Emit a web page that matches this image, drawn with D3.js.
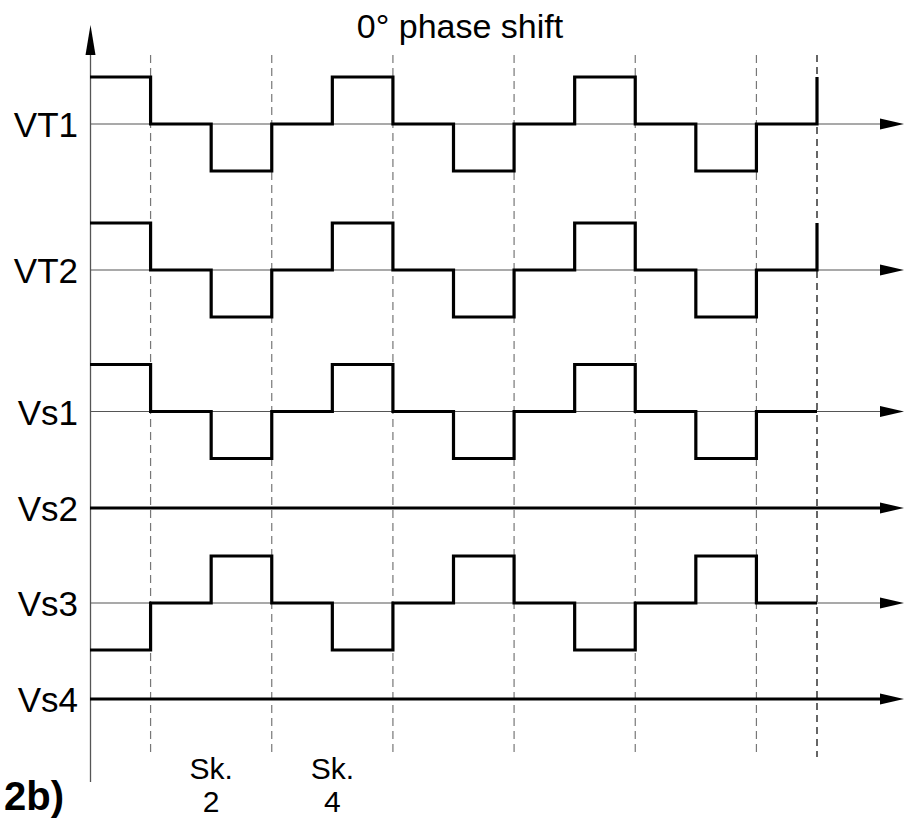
<!DOCTYPE html>
<html><head><meta charset="utf-8">
<script src="https://cdn.jsdelivr.net/npm/d3@7"></script>
<style>body{margin:0;background:#fff}svg{display:block}text{font-family:"Liberation Sans",Arial,sans-serif}</style>
</head><body>
<svg id="c" width="904" height="819"></svg>
<script>
// --- data ---
const rowLabels = ["VT1","VT2","Vs1","Vs2","Vs3","Vs4"];
const VT1 = [1,0,-1,0,1,0,-1,0,1,0,-1,0,1];
const VT2 = [1,0,-1,0,1,0,-1,0,1,0,-1,0,1];
const Vs1 = [1,0,-1,0,1,0,-1,0,1,0,-1,0,0];
const Vs2 = [0,0,0,0,0,0,0,0,0,0,0,0,0,0];
const Vs3 = [-1,0,1,0,-1,0,1,0,-1,0,1,0,0];
const Vs4 = [0,0,0,0,0,0,0,0,0,0,0,0,0,0];
const series = [VT1,VT2,Vs1,Vs2,Vs3,Vs4];
const gridTimes = [1,3,5,7,9,11,12];
const skLabels = [{t:2,a:"Sk.",b:"2"},{t:4,a:"Sk.",b:"4"}];
const title = "0° phase shift";
const figLabel = "2b)";

// --- layout ---
const svg = d3.select("#c");
const x = d3.scaleLinear().domain([0,12]).range([90,817]);
const rowBase = {VT1:124,VT2:270,Vs1:411.5,Vs2:508,Vs3:603,Vs4:699};
const amp = d3.scaleLinear().domain([-1,1]).range([47,-47]);

// dashed grid lines
gridTimes.forEach((t,i)=>{
  const last = i===gridTimes.length-1;
  svg.append("line").attr("x1",x(t)).attr("x2",x(t)).attr("y1",55).attr("y2",757)
    .attr("stroke",last?"#000":"#777").attr("stroke-width",1.2)
    .attr("stroke-dasharray",last?"7,5":"8,5");
});

// y axis with arrow
svg.append("line").attr("x1",90.5).attr("x2",90.5).attr("y1",50).attr("y2",782)
  .attr("stroke","#555").attr("stroke-width",1.3);
svg.append("path").attr("d",`M90.5,25 L85.5,55 L95.5,55 Z`).attr("fill","#000");

// rows
rowLabels.forEach((lab,i)=>{
  const by = rowBase[lab];
  const vals = series[i];
  const flat = vals.every(v=>v===0) && vals.length>13;
  svg.append("line").attr("x1",90).attr("x2",884).attr("y1",by).attr("y2",by)
    .attr("stroke", flat?"#000":"#555").attr("stroke-width", flat?3.2:1.2);
  svg.append("path").attr("d",`M904,${by} L880,${by-5.5} L880,${by+5.5} Z`).attr("fill","#000");
  if(!flat){
    const line = d3.line().x((d,j)=>x(j)).y(d=>by+amp(d)).curve(d3.curveStepAfter);
    svg.append("path").attr("d",line(vals)).attr("fill","none")
      .attr("stroke","#000").attr("stroke-width",3.2).attr("stroke-linejoin","miter");
  }
  svg.append("text").attr("x",78).attr("y",by+13).attr("text-anchor","end")
    .attr("font-size",35).attr("fill","#000").text(lab);
});

// title
svg.append("text").attr("x",460).attr("y",38).attr("text-anchor","middle")
  .attr("font-size",34).text(title);

// Sk labels
skLabels.forEach(s=>{
  svg.append("text").attr("x",x(s.t)).attr("y",779).attr("text-anchor","middle").attr("font-size",30).text(s.a);
  svg.append("text").attr("x",x(s.t)).attr("y",812).attr("text-anchor","middle").attr("font-size",30).text(s.b);
});

svg.append("text").attr("x",4).attr("y",810).attr("font-size",40).attr("font-weight","bold").text(figLabel);
</script>
</body></html>
